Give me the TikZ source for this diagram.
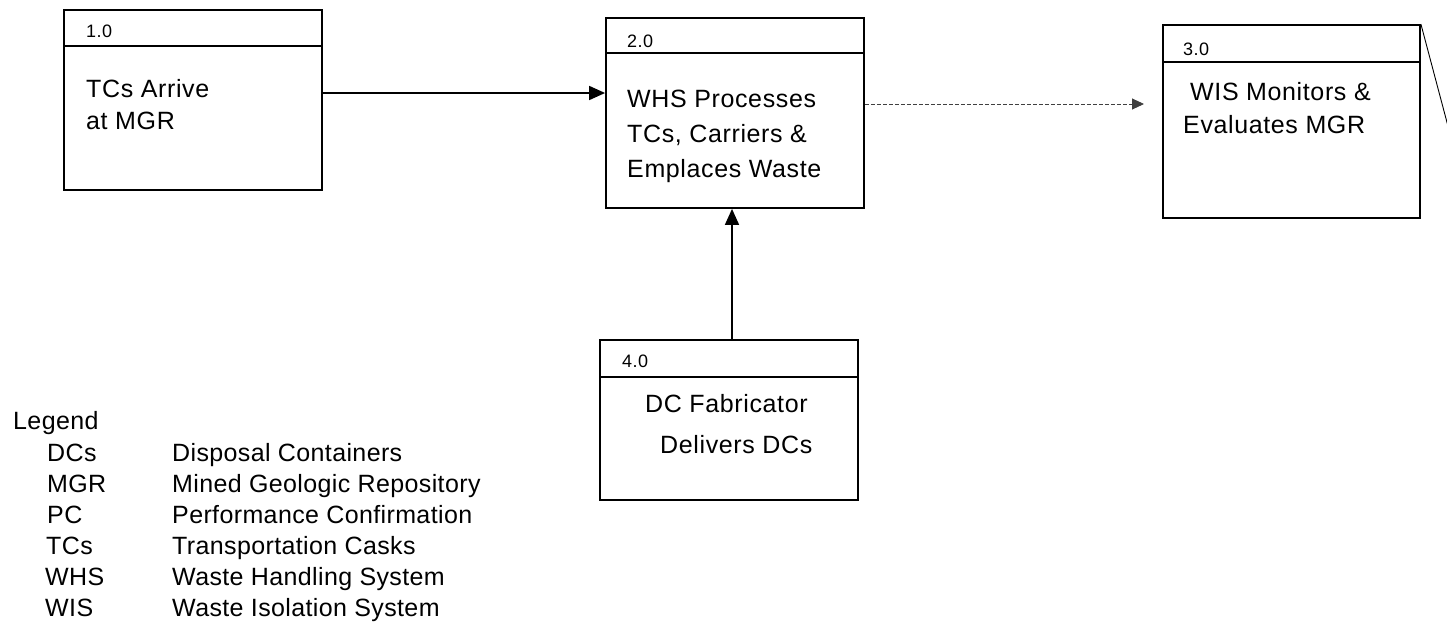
\documentclass[tikz,border=0pt]{standalone}
\usepackage{fontspec}
\setmainfont{Liberation Sans}[LetterSpace=2.5]
\usetikzlibrary{arrows.meta,calc}
\begin{document}
\begin{tikzpicture}[x=1pt,y=-1pt,
  procbox/.style={draw,line width=1.8pt,rectangle,inner sep=0pt},
  hdrline/.style={line width=1.5pt},
  numtxt/.style={anchor=base west,inner sep=0pt,font=\fontsize{18}{20}\selectfont},
  boxtxt/.style={anchor=base west,inner sep=0pt,font=\fontsize{25}{28}\selectfont},
  legtxt/.style={anchor=base west,inner sep=0pt,font=\fontsize{25}{28}\selectfont\addfontfeature{LetterSpace=1.5}},
  flow/.style={line width=1.7pt,-{Triangle[length=16pt,width=14pt]}},
  dflow/.style={line width=0.9pt,black!75,dash pattern=on 4pt off 2pt,-{Triangle[length=12pt,width=11pt]}}]
\useasboundingbox (0,0) rectangle (1447,635);

% boxes
\node[procbox,minimum width=258pt,minimum height=180pt] (b1) at (193,100) {};
\node[procbox,minimum width=258pt,minimum height=190pt] (b2) at (735,113) {};
\node[procbox,minimum width=257pt,minimum height=193pt] (b3) at (1291.5,121.5) {};
\node[procbox,minimum width=258pt,minimum height=160pt] (b4) at (729,420) {};

% header lines
\draw[hdrline] (b1.west |- 0,46) -- (b1.east |- 0,46);
\draw[hdrline] (b2.west |- 0,53) -- (b2.east |- 0,53);
\draw[hdrline] (b3.west |- 0,62) -- (b3.east |- 0,62);
\draw[hdrline] (b4.west |- 0,377) -- (b4.east |- 0,377);

% box texts
\node[numtxt] (n1) at (86,37) {1.0};
\node[boxtxt] (t1a) at (86,97) {TCs Arrive};
\node[boxtxt] (t1b) at (86,129) {at MGR};

\node[numtxt] (n2) at (627,47) {2.0};
\node[boxtxt] (t2a) at (627,107) {WHS Processes};
\node[boxtxt] (t2b) at (627,142) {TCs, Carriers \&};
\node[boxtxt] (t2c) at (627,177) {Emplaces Waste};

\node[numtxt] (n3) at (1183,55) {3.0};
\node[boxtxt] (t3a) at (1190,100) {WIS Monitors \&};
\node[boxtxt] (t3b) at (1183,133) {Evaluates MGR};

\node[numtxt] (n4) at (622,367) {4.0};
\node[boxtxt] (t4a) at (645,412) {DC Fabricator};
\node[boxtxt] (t4b) at (660,453) {Delivers DCs};

% connectors
\draw[flow] (b1.east |- 0,93) -- (b2.west |- 0,93);
\draw[flow] (b4.north -| 732,0) -- (b2.south -| 732,0);
\coordinate (dend) at (1144,104);
\draw[dflow] (b2.east |- 0,104) -- (dend);
\coordinate (offr) at (1449,130);
\draw[line width=0.9pt] (b3.north east) -- (offr);

% legend
\node[legtxt] (lg) at (13,429) {Legend};
\node[legtxt] (a1) at (47,461) {DCs};
\node[legtxt] (d1) at (172,461) {Disposal Containers};
\node[legtxt] (a2) at (47,492) {MGR};
\node[legtxt] (d2) at (172,492) {Mined Geologic Repository};
\node[legtxt] (a3) at (47,523) {PC};
\node[legtxt] (d3) at (172,523) {Performance Confirmation};
\node[legtxt] (a4) at (46,554) {TCs};
\node[legtxt] (d4) at (172,554) {Transportation Casks};
\node[legtxt] (a5) at (45,585) {WHS};
\node[legtxt] (d5) at (172,585) {Waste Handling System};
\node[legtxt] (a6) at (45,616) {WIS};
\node[legtxt] (d6) at (172,616) {Waste Isolation System};
\end{tikzpicture}
\end{document}
